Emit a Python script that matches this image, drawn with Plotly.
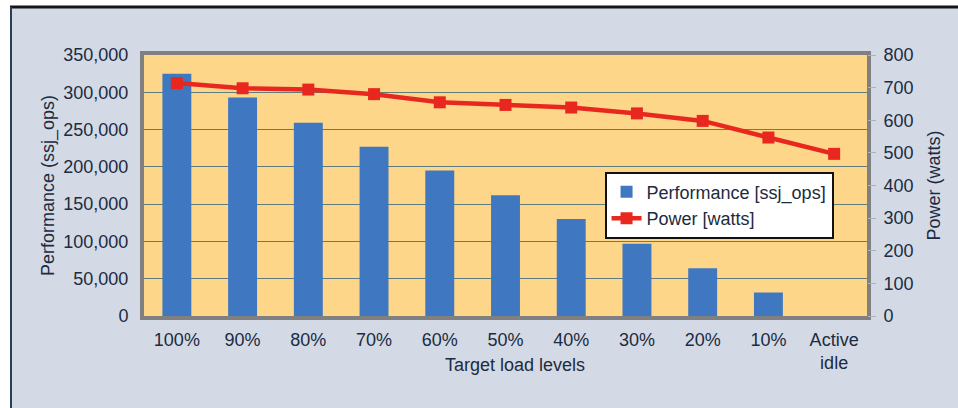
import plotly.graph_objects as go

# Data
load_levels = ["100%", "90%", "80%", "70%", "60%", "50%", "40%", "30%", "20%", "10%", "Active<br>idle"]
performance_ops = [325000, 293000, 259000, 227000, 195000, 162000, 130000, 97000, 64000, 31500, None]
power_watts = [714, 698, 694, 680, 655, 647, 639, 621, 598, 547, 497]
perf_ticks = [0, 50000, 100000, 150000, 200000, 250000, 300000, 350000]
perf_tick_text = ["0", "50,000", "100,000", "150,000", "200,000", "250,000", "300,000", "350,000"]
power_ticks = [0, 100, 200, 300, 400, 500, 600, 700, 800]

FONT = "Liberation Sans Narrow, Arial Narrow, sans-serif"
TEXT = "#1c2b40"
GRID = "#5f7d7d"
FRAME = "#808080"

W, H = 958, 408
ML, MR, MT, MB = 144, 91, 55, 92
PW, PH = W - ML - MR, H - MT - MB

fig = go.Figure()
fig.add_trace(go.Bar(
    x=load_levels, y=performance_ops, name="Performance [ssj_ops]",
    marker=dict(color="#3f77c1", line=dict(width=0)), yaxis="y",
))
fig.add_trace(go.Scatter(
    x=load_levels, y=power_watts, name="Power [watts]", mode="lines+markers",
    line=dict(color="#e8281e", width=4.5),
    marker=dict(symbol="square", size=12, color="#e8281e"),
    yaxis="y2",
))

fig.update_layout(
    width=W, height=H,
    margin=dict(l=ML, r=MR, t=MT, b=MB, autoexpand=False),
    paper_bgcolor="#d3dae6",
    plot_bgcolor="#fdd68a",
    font=dict(family=FONT, size=18, color=TEXT),
    bargap=0.56,
    showlegend=True,
    legend=dict(
        x=0.637, y=0.553, xanchor="left", yanchor="top",
        bgcolor="white", bordercolor="#111111", borderwidth=2,
        font=dict(family=FONT, size=18, color=TEXT),
        tracegroupgap=0, itemwidth=30,
    ),
    xaxis=dict(
        range=[-0.5, len(load_levels) - 0.5],
        showgrid=False, showline=True, linecolor=FRAME, linewidth=4, mirror=True,
        ticks="", tickfont=dict(size=18), ticklabelstandoff=4,
    ),
    yaxis=dict(
        title=dict(text="Performance (ssj_ops)", font=dict(size=18), standoff=5),
        range=[0, 350000], tickvals=perf_ticks, ticktext=perf_tick_text,
        showgrid=True, gridcolor=GRID, gridwidth=1,
        showline=True, linecolor=FRAME, linewidth=4, mirror=True,
        ticks="", tickfont=dict(size=18), zeroline=False, ticklabelstandoff=8,
    ),
    yaxis2=dict(
        title=dict(text="Power (watts)", font=dict(size=18), standoff=14),
        range=[0, 800], tickvals=power_ticks, overlaying="y", side="right",
        showgrid=False, zeroline=False, showline=False,
        ticks="outside", ticklen=8, tickcolor="#a9b2c0", tickwidth=1,
        tickfont=dict(size=18), ticklabelstandoff=4,
    ),
    annotations=[
        dict(text="Target load levels", xref="paper", yref="paper",
             x=(515 - ML) / PW, y=-(365 - (MT + PH)) / PH,
             xanchor="center", yanchor="middle", showarrow=False,
             font=dict(family=FONT, size=18, color=TEXT)),
    ],
    shapes=[
        # white border strips outside the panel
        dict(type="rect", xref="paper", yref="paper", x0=-ML / PW, x1=-(ML - 10) / PW,
             y0=-MB / PH, y1=1 + MT / PH, fillcolor="white", line=dict(width=0)),
        dict(type="rect", xref="paper", yref="paper", x0=-ML / PW, x1=1 + MR / PW,
             y0=1 + (MT - 6) / PH, y1=1 + MT / PH, fillcolor="white", line=dict(width=0)),
        # dark frame edges
        dict(type="line", xref="paper", yref="paper", x0=-(ML - 10) / PW, x1=1 + MR / PW,
             y0=1 + (MT - 7) / PH, y1=1 + (MT - 7) / PH, line=dict(color="#151515", width=3)),
        dict(type="line", xref="paper", yref="paper", x0=-(ML - 11) / PW, x1=-(ML - 11) / PW,
             y0=-MB / PH, y1=1 + (MT - 7) / PH, line=dict(color="#24405a", width=2)),
    ],
)

fig.write_html("out.html")
